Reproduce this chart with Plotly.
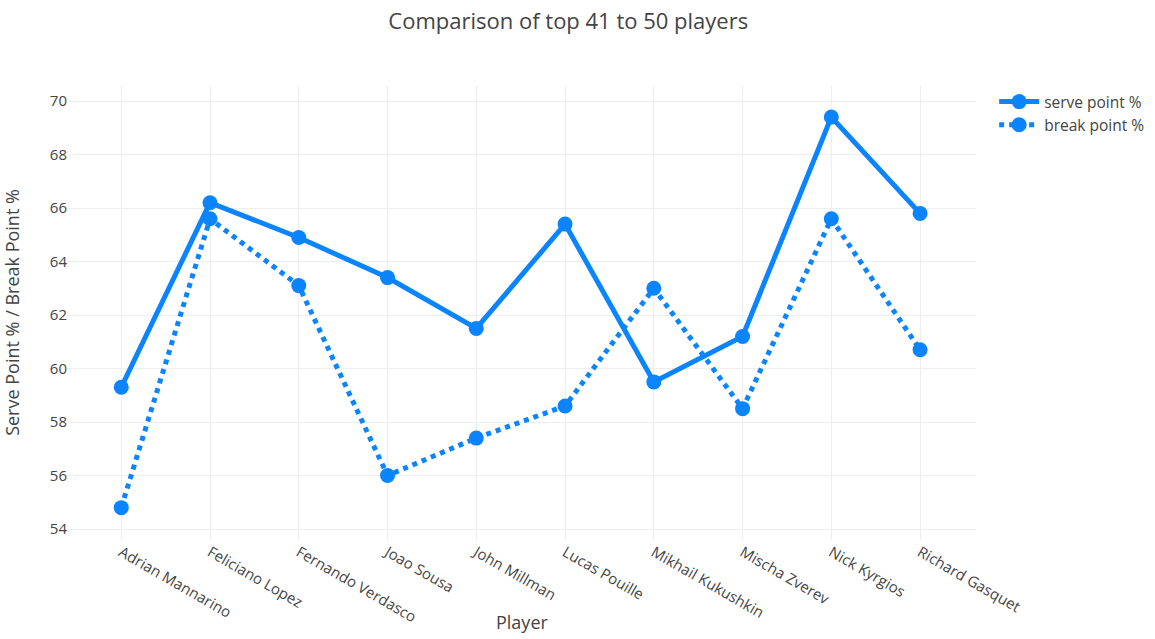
import plotly.graph_objects as go

players = ["Adrian Mannarino", "Feliciano Lopez", "Fernando Verdasco", "Joao Sousa",
           "John Millman", "Lucas Pouille", "Mikhail Kukushkin", "Mischa Zverev",
           "Nick Kyrgios", "Richard Gasquet"]
serve_pct = [59.3, 66.2, 64.9, 63.4, 61.5, 65.4, 59.5, 61.2, 69.4, 65.8]
break_pct = [54.8, 65.6, 63.1, 56.0, 57.4, 58.6, 63.0, 58.5, 65.6, 60.7]

color = "#0A84FF"
fig = go.Figure()
fig.add_trace(go.Scatter(x=players, y=serve_pct, name="serve point %", mode="lines+markers",
                         line=dict(color=color, width=5), marker=dict(size=15, color=color)))
fig.add_trace(go.Scatter(x=players, y=break_pct, name="break point %", mode="lines+markers",
                         line=dict(color=color, width=5, dash="dot"), marker=dict(size=15, color=color)))

fig.update_layout(
    width=1155, height=639,
    title=dict(text="Comparison of top 41 to 50 players", x=0.492, xanchor="center", y=0.978,
               font=dict(size=22, color="#444")),
    font=dict(family="Open Sans", color="#444"),
    margin=dict(l=68, r=179, t=85, b=99, autoexpand=False),
    paper_bgcolor="white", plot_bgcolor="white",
    xaxis=dict(tickangle=30, automargin=False,
               range=[-0.6, 9.63], gridcolor="#eee", showline=False, zeroline=False,
               tickfont=dict(size=15)),
    yaxis=dict(title=dict(text="Serve Point % / Break Point %", font=dict(size=18), standoff=30),
               automargin=False,
               range=[53.59, 70.6], dtick=2, gridcolor="#eee", zeroline=False,
               tickfont=dict(size=15)),
    legend=dict(x=1.02, y=1.0, xanchor="left", yanchor="top", font=dict(size=15.5), itemwidth=40),
    annotations=[dict(text="Player", xref="paper", yref="paper", x=0.5, y=-0.181,
                      xanchor="center", yanchor="middle", showarrow=False,
                      font=dict(size=18, color="#444"))],
)
fig.write_html("out.html", config={"displayModeBar": False},
               post_script="document.body.style.margin='0';document.body.style.overflow='hidden';")
